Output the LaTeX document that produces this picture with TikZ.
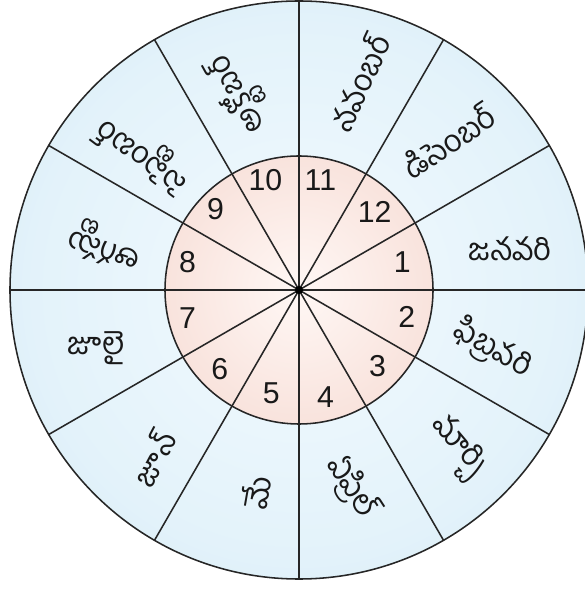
\documentclass[tikz,border=0pt]{standalone}
\usepackage{fontspec}
\setmainfont{Liberation Sans}
\newfontfamily\telugu[Script=Telugu]{Hind Guntur}
\usepackage{tikz}
\usetikzlibrary{calc}
\pgfdeclareradialshading{ringshade}{\pgfpoint{0bp}{0bp}}{rgb(0bp)=(0.95,0.98,1); rgb(23bp)=(0.89,0.95,0.98); rgb(50bp)=(0.74,0.87,0.95)}
\pgfdeclareradialshading{hubshade}{\pgfpoint{0bp}{0bp}}{rgb(0bp)=(1,0.97,0.96); rgb(50bp)=(0.95,0.81,0.77)}
\tikzset{
    numlbl/.style={inner sep=0pt, text=black!90,
                   font=\fontsize{21.5}{24}\selectfont},
    monlbl/.style={inner sep=0pt, text=black!90,
                   font=\telugu\fontsize{22}{24}\selectfont},
    spoke/.style={line width=1.1pt, draw=black!85}
}

\begin{document}
\begin{tikzpicture}[x=0.025cm, y=0.025cm]
\useasboundingbox (-299,-299) rectangle (285,290);
\coordinate (c) at (0,0);

% discs
\shade[shading=ringshade] (c) circle (289);
\shade[shading=hubshade]  (c) circle (134);

% spokes
\draw[spoke] (0:289)   -- (180:289);
\draw[spoke] (30:289)  -- (210:289);
\draw[spoke] (60:289)  -- (240:289);
\draw[spoke] (90:289)  -- (270:289);
\draw[spoke] (120:289) -- (300:289);
\draw[spoke] (150:289) -- (330:289);
\draw[spoke] (c) circle (134);
\draw[spoke] (c) circle (289);
\fill[black] (c) circle (4);

% month numbers
\node[numlbl] at (15:107)   (n1)  {1};
\node[numlbl] at (-14:111)  (n2)  {2};
\node[numlbl] at (-44:109)  (n3)  {3};
\node[numlbl] at (-76:110)  (n4)  {4};
\node[numlbl] at (-105:107) (n5)  {5};
\node[numlbl] at (-135:112) (n6)  {6};
\node[numlbl] at (-166:115) (n7)  {7};
\node[numlbl] at (166:115)  (n8)  {8};
\node[numlbl] at (136:116)  (n9)  {9};
\node[numlbl] at (107:115)  (n10) {10};
\node[numlbl] at (79:112)   (n11) {11};
\node[numlbl] at (46:109)   (n12) {12};

% month names
\node[monlbl]              at (11:215)   (m1)  {జనవరి};
\node[monlbl, rotate=-30]  at (-17:203)  (m2)  {ఫిబ్రవరి};
\node[monlbl, rotate=-50]  at (-45:223)  (m3)  {మార్చి};
\node[monlbl, rotate=-57]  at (-75:204)  (m4)  {ఏప్రిల్};
\node[monlbl, rotate=80]   at (-102:207) (m5)  {మే};
\node[monlbl, rotate=62]   at (229:222)  (m6)  {జూన్};
\node[monlbl]              at (196:211)  (m7)  {జూలై};
\node[monlbl, rotate=162]  at (167:199)  (m8)  {ఆగస్టు};
\node[monlbl, rotate=143]  at (139:207)  (m9)  {సెప్టెంబర్};
\node[monlbl, rotate=119]  at (107:206)  (m10) {అక్టోబర్};
\node[monlbl, rotate=65]   at (74:216)   (m11) {నవంబర్};
\node[monlbl, rotate=34]   at (45:211)   (m12) {డిసెంబర్};
\end{tikzpicture}
\end{document}
